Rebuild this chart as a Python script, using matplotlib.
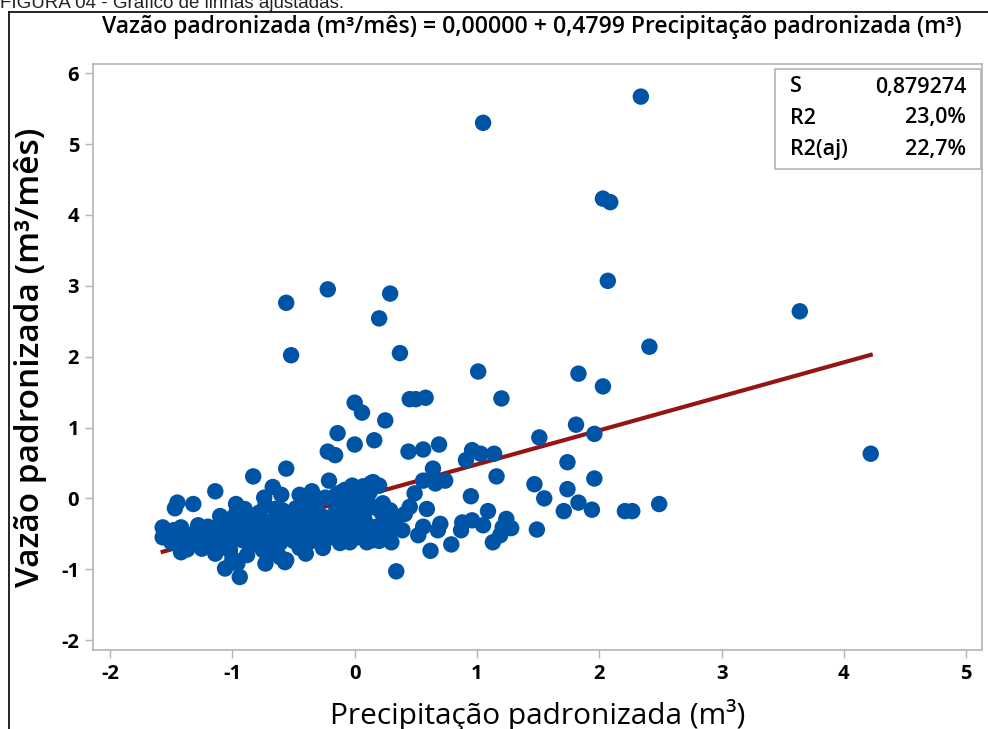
import numpy as np
import matplotlib
matplotlib.use("Agg")
import matplotlib.pyplot as plt
from matplotlib.lines import Line2D

plt.rcParams['font.family'] = ['Open Sans', 'DejaVu Sans']

# coeficientes do modelo ajustado (do titulo)
b0 = 0.00000
b1 = 0.4799
stats_names = ["S", "R2", "R2(aj)"]
stats_values = ["0,879274", "23,0%", "22,7%"]

x_ticks = [-2, -1, 0, 1, 2, 3, 4, 5]
y_ticks = [-2, -1, 0, 1, 2, 3, 4, 5, 6]

# Precipitação padronizada (m³)
precip = [
    1.05, 2.34, 2.03, 2.09, 2.07, 3.64, 2.41, 4.22, 0.29, -0.22,
    -0.56, 0.20, -0.52, 0.37, 1.01, 1.83, 2.03, 0.45, 0.50, 0.58,
    1.20, 1.81, 1.96, 1.51, 0.44, 0.56, 0.69, 0.91, 0.96, 1.03,
    1.14, 0.64, 0.56, 0.66, 0.74, 1.16, 1.74, 1.96, 0.49, 0.95,
    1.47, 1.55, 1.74, 1.83, 1.71, 1.94, 2.21, 2.27, 2.49, 0.45,
    0.59, 0.41, 0.56, 0.52, 0.70, 0.68, 0.79, 0.62, 0.88, 0.87,
    0.96, 1.05, 1.09, 1.13, 1.21, 1.24, 1.28, 1.19, 1.49, 0.39,
    0.31, 0.34, 0.00, 0.06, 0.25, -0.14, 0.00, 0.16, -0.22, -0.16,
    -0.83, -0.56, -0.21, -0.67, -1.14, -1.45, -1.32, -1.47, -0.74, -0.73,
    -0.97, -0.42, -0.12, 0.07, 0.13, 0.20, -0.02, 0.15, -0.94, -0.96,
    -1.06, -0.73, -0.57, -1.57, -1.57, -0.97, -0.92, -1.42, -1.28, -1.14,
    -1.06, -1.41, -1.46, -1.42, -1.32, -1.22, -1.14, -1.08, -1.02, -1.02,
    -0.92, -0.92, -0.94, -0.78, -0.73, -0.67, -0.75, -0.70, -0.61, -0.61,
    -0.61, -0.61, -0.24, -0.34, -0.59, -0.48, -0.56, -0.45, -0.32, -0.24,
    -0.12, -0.02, 0.09, 0.17, 0.29, 0.34, 0.23, -0.51, -0.40, -0.29,
    -0.18, -0.07, 0.04, 0.15, 0.25, 0.30, -0.56, -0.40, -0.26, -0.12,
    -0.04, 0.10, 0.20, -1.48, -1.50, -1.37, -1.25, -1.30, -1.18, -1.10,
    -1.00, -0.85, -0.85, -0.80, -0.50, -0.45, -0.35, -0.20, -0.10, 0.00,
    0.05, -0.05, -0.15, -0.30, -0.40, -0.50, -0.70, -0.80, -0.88, 0.10,
    0.25, 0.12, -0.28, -0.38, -0.20, -0.60, -0.45, -0.35, -1.52, -1.50,
    -1.38, -1.35, -1.20, -1.25, -1.15, -1.05, -0.98, -0.88, -0.83, -0.78,
    -0.68, -0.65, -0.55, -0.52, -0.47, -0.42, -0.38, -0.30, -0.25, -0.15,
    -0.10, -0.05, 0.02, 0.08, 0.18, 0.22, 0.28, 0.12, 0.00, -0.08,
    -0.35, -0.65, -0.90, -1.10, -1.00,
]

# Vazão padronizada (m³/mês)
vazao = [
    5.30, 5.67, 4.23, 4.18, 3.07, 2.64, 2.14, 0.63, 2.89, 2.95,
    2.76, 2.54, 2.02, 2.05, 1.79, 1.76, 1.58, 1.40, 1.40, 1.42,
    1.41, 1.04, 0.91, 0.86, 0.66, 0.69, 0.76, 0.54, 0.68, 0.63,
    0.63, 0.42, 0.25, 0.21, 0.25, 0.31, 0.51, 0.28, 0.07, 0.03,
    0.20, 0.00, 0.13, -0.06, -0.18, -0.16, -0.18, -0.18, -0.08, -0.12,
    -0.15, -0.22, -0.40, -0.52, -0.36, -0.45, -0.65, -0.74, -0.34, -0.45,
    -0.31, -0.38, -0.18, -0.62, -0.41, -0.29, -0.42, -0.52, -0.44, -0.45,
    -0.35, -1.03, 1.35, 1.21, 1.10, 0.92, 0.76, 0.82, 0.66, 0.61,
    0.31, 0.42, 0.25, 0.16, 0.10, -0.06, -0.08, -0.14, 0.01, -0.10,
    -0.08, -0.01, 0.08, 0.17, 0.21, 0.18, 0.18, 0.23, -1.11, -0.92,
    -0.99, -0.92, -0.90, -0.41, -0.55, -0.21, -0.27, -0.41, -0.38, -0.41,
    -0.42, -0.59, -0.64, -0.76, -0.59, -0.66, -0.78, -0.69, -0.63, -0.73,
    -0.59, -0.45, -0.34, -0.45, -0.41, -0.31, -0.73, -0.78, -0.27, -0.45,
    -0.63, -0.83, 0.01, -0.13, -0.17, -0.14, -0.31, -0.27, -0.31, -0.27,
    -0.21, -0.17, -0.17, -0.13, -0.17, -0.27, -0.07, -0.49, -0.45, -0.49,
    -0.45, -0.49, -0.45, -0.59, -0.55, -0.62, -0.87, -0.78, -0.70, -0.63,
    -0.62, -0.62, -0.60, -0.45, -0.50, -0.72, -0.71, -0.48, -0.52, -0.55,
    -0.50, -0.55, -0.40, -0.30, -0.60, -0.70, -0.60, -0.35, -0.35, -0.30,
    -0.05, -0.05, 0.05, 0.00, -0.20, -0.35, -0.55, -0.65, -0.80, 0.00,
    -0.35, -0.40, -0.40, -0.33, -0.55, 0.05, 0.05, 0.10, -0.48, -0.62,
    -0.50, -0.62, -0.40, -0.55, -0.62, -0.30, -0.55, -0.48, -0.62, -0.20,
    -0.62, -0.48, -0.55, -0.20, -0.42, -0.55, -0.08, -0.20, -0.60, -0.15,
    -0.55, -0.30, -0.55, -0.30, -0.40, -0.20, -0.50, 0.08, 0.05, 0.12,
    -0.45, -0.15, -0.15, -0.25, -0.85,
]

fig = plt.figure(figsize=(9.88, 7.29), dpi=100)
W, H = 988, 729

# legenda da figura (cortada no topo da imagem)
fig.text(0 / W, 1 - 8 / H, "FIGURA 04 - Gráfico de linhas ajustadas:",
         family=['Liberation Sans', 'DejaVu Sans'], fontsize=13.5, color='#222222',
         ha='left', va='baseline')

# moldura preta
fig.add_artist(Line2D([9 / W, 9 / W], [0, 1 - 12 / H], transform=fig.transFigure,
                      color='black', lw=1.2))
fig.add_artist(Line2D([9 / W, 1], [1 - 12 / H, 1 - 12 / H], transform=fig.transFigure,
                      color='black', lw=1.2))

ax = fig.add_axes([93 / W, 1 - 650 / H, (982 - 93) / W, (650 - 64) / H])

ax.scatter(precip, vazao, s=140, color='#0054A6', edgecolors='none', zorder=3)

# reta ajustada
xs = np.array([min(precip), max(precip)])
ax.plot(xs, b0 + b1 * xs, color='#961414', lw=3, zorder=2)

ax.set_xlim(-2.14, 5.13)
ax.set_ylim(-2.14, 6.13)
ax.set_xticks(x_ticks)
ax.set_yticks(y_ticks)
ax.set_xticklabels([str(t) for t in x_ticks])
ax.set_yticklabels([str(t) for t in y_ticks])

for s in ax.spines.values():
    s.set_color('#b4b4b4')
    s.set_linewidth(1.2)
ax.tick_params(direction='out', length=6, width=1, color='#b4b4b4', pad=4)
for lab in ax.get_xticklabels() + ax.get_yticklabels():
    lab.set_fontsize(14.5)
    lab.set_fontweight('bold')

ax.set_xlabel("Precipitação padronizada (m³)", fontsize=21.5)
ax.set_ylabel("Vazão padronizada (m³/mês)", fontsize=24, fontweight='semibold')
ax.xaxis.set_label_coords(0.5, -0.083)
ax.yaxis.set_label_coords(-0.052, 0.5)

fig.text(532 / W, 1 - 27 / H,
         "Vazão padronizada (m³/mês) = 0,00000 + 0,4799 Precipitação padronizada (m³)",
         fontsize=16.6, fontweight='semibold', ha='center', va='center')

# caixa de estatisticas
bx0, by0, bx1, by1 = 775, 69, 981, 169
fig.patches.append(plt.Rectangle((bx0 / W, 1 - by1 / H), (bx1 - bx0) / W, (by1 - by0) / H,
                                 transform=fig.transFigure, fill=True, facecolor='white',
                                 edgecolor='#b4b4b4', lw=1.2, zorder=5))
for i, (n, v) in enumerate(zip(stats_names, stats_values)):
    yy = 1 - (87 + 31 * i) / H
    fig.text(790 / W, yy, n, fontsize=15.5, fontweight='semibold', ha='left', va='center', zorder=6)
    fig.text(966 / W, yy, v, fontsize=15.5, fontweight='semibold', ha='right', va='center', zorder=6)

fig.savefig("out.png", dpi=100)
